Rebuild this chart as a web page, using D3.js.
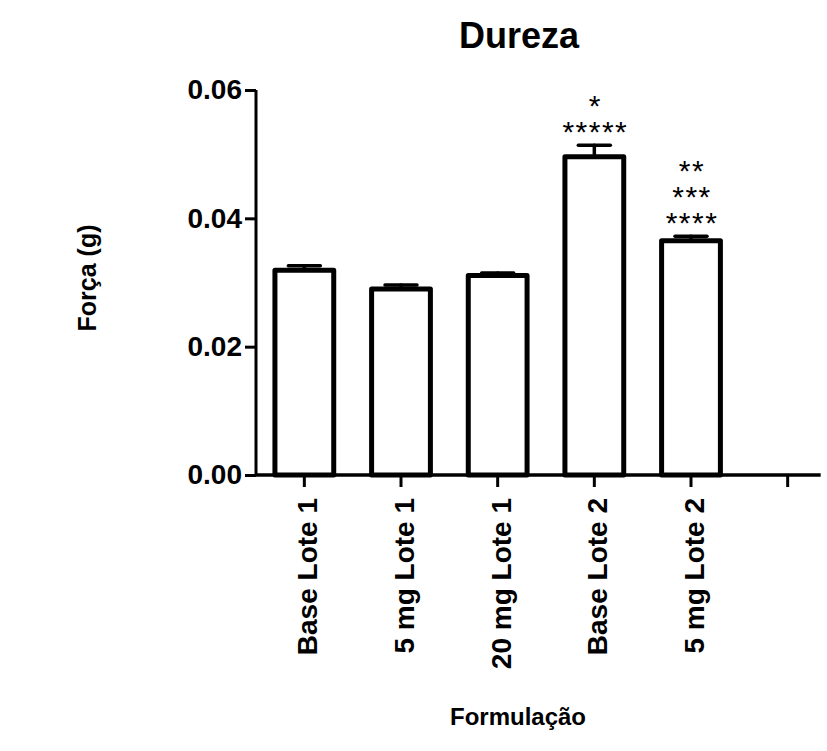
<!DOCTYPE html>
<html>
<head>
<meta charset="utf-8">
<script src="https://cdn.jsdelivr.net/npm/d3@7"></script>
<style>
  body { margin: 0; background: #fff; }
  svg { display: block; }
  text { font-family: 'Liberation Sans', Arial, sans-serif; fill: #000; }
</style>
</head>
<body>
<div id="chart"></div>
<script>
const WIDTH = 827;
const HEIGHT = 751;

// data
const categories = ['Base Lote 1', '5 mg Lote 1', '20 mg Lote 1', 'Base Lote 2', '5 mg Lote 2', ''];
const means = [0.0319, 0.0290, 0.0311, 0.0496, 0.0365];
const errors = [0.0007, 0.0006, 0.0004, 0.0018, 0.0007];
const stars = [[], [], [], ['*', '*****'], ['**', '***', '****']];
const yTicks = [0, 0.02, 0.04, 0.06];

const plot = { left: 256, right: 836, top: 90, bottom: 475 };

const svg = d3
  .select('#chart')
  .append('svg')
  .attr('width', WIDTH)
  .attr('height', HEIGHT);

const x = d3
  .scaleBand()
  .domain(categories)
  .range([plot.left, plot.right])
  .paddingInner(0.34)
  .paddingOuter(0.17);

const y = d3.scaleLinear().domain([0, 0.06]).range([plot.bottom, plot.top]);

// bars
const SW = 5;
svg
  .append('g')
  .selectAll('rect')
  .data(means)
  .enter()
  .append('rect')
  .attr('x', (d, i) => x(categories[i]) + SW / 2)
  .attr('width', x.bandwidth() - SW)
  .attr('y', (d) => y(d))
  .attr('height', (d) => y(0) - y(d))
  .attr('fill', '#fff')
  .attr('stroke', '#000')
  .attr('stroke-width', SW)
  .attr('stroke-linejoin', 'round');

// error bars (upper only)
const eb = svg.append('g').attr('stroke', '#000').attr('stroke-linecap', 'round');
means.forEach((m, i) => {
  const cx = x(categories[i]) + x.bandwidth() / 2;
  eb.append('line')
    .attr('x1', cx).attr('x2', cx)
    .attr('y1', y(m)).attr('y2', y(m + errors[i]))
    .attr('stroke-width', 3.5);
  eb.append('line')
    .attr('x1', cx - 16).attr('x2', cx + 16)
    .attr('y1', y(m + errors[i])).attr('y2', y(m + errors[i]))
    .attr('stroke-width', 3.5);
});

// significance stars
means.forEach((m, i) => {
  const cx = x(categories[i]) + x.bandwidth() / 2;
  const top = y(m + errors[i]);
  const n = stars[i].length;
  stars[i].forEach((s, j) => {
    svg
      .append('text')
      .attr('x', cx + 1)
      .attr('y', top - 3 - (n - 1 - j) * 26)
      .attr('text-anchor', 'middle')
      .attr('font-size', 30)
      .attr('letter-spacing', 1.5)
      .text(s);
  });
});

// y axis
const yAxis = svg
  .append('g')
  .attr('transform', `translate(${plot.left},0)`)
  .call(d3.axisLeft(y).tickValues(yTicks).tickFormat(d3.format('.2f')).tickSize(11).tickPadding(3));
yAxis.select('.domain').attr('stroke-width', 3).attr('d', `M0,${plot.top}V${plot.bottom}`);
yAxis.selectAll('.tick line').attr('stroke-width', 3);
yAxis
  .selectAll('.tick text')
  .attr('font-size', 28)
  .attr('font-weight', 'bold')
  .attr('font-family', "'Liberation Sans', Arial, sans-serif");

// x axis
const xAxis = svg
  .append('g')
  .attr('transform', `translate(0,${plot.bottom})`)
  .call(d3.axisBottom(x).tickSize(12).tickSizeOuter(0));
xAxis.select('.domain').attr('stroke-width', 3.5).attr('d', `M${plot.left},0H${x('') + x.bandwidth() / 2 + 33}`);
xAxis.selectAll('.tick line').attr('stroke-width', 3);
xAxis
  .selectAll('.tick text')
  .attr('font-size', 28)
  .attr('font-weight', 'bold')
  .attr('font-family', "'Liberation Sans', Arial, sans-serif")
  .attr('text-anchor', 'end')
  .attr('dy', null)
  .attr('y', null)
  .attr('transform', 'translate(13,23) rotate(-90)');

// titles
svg
  .append('text')
  .attr('x', 519)
  .attr('y', 48)
  .attr('text-anchor', 'middle')
  .attr('font-size', 36)
  .attr('font-weight', 'bold')
  .text('Dureza');

svg
  .append('text')
  .attr('transform', 'translate(96,278) rotate(-90)')
  .attr('text-anchor', 'middle')
  .attr('font-size', 25)
  .attr('font-weight', 'bold')
  .text('Força (g)');

svg
  .append('text')
  .attr('x', 518)
  .attr('y', 725)
  .attr('text-anchor', 'middle')
  .attr('font-size', 24)
  .attr('font-weight', 'bold')
  .text('Formulação');
</script>
</body>
</html>
